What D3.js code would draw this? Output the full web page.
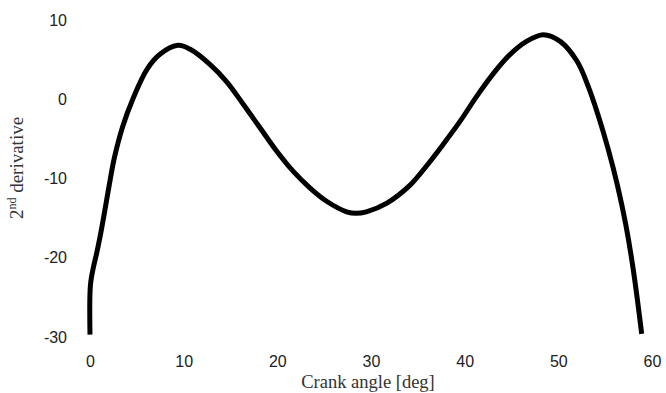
<!DOCTYPE html>
<html>
<head>
<meta charset="utf-8">
<script src="https://cdn.jsdelivr.net/npm/d3@7/dist/d3.min.js"></script>
<style>
  html, body { margin: 0; padding: 0; background: #fff; }
  svg { display: block; }
</style>
</head>
<body>
<svg id="chart" width="666" height="393"></svg>
<script>
// Crank angle (deg) and second derivative of the cam profile
const crankAngle = [0, 0.05, 0.4, 0.7, 1.1, 1.5, 2.0, 2.6, 3.5, 4.6, 6.1, 7.5, 9.4, 10.7, 12.8, 14.6, 16.4, 18.15, 19.9, 21.7, 23.5, 25.3, 27.4, 28.4, 29.5, 31.7, 34.2, 35.9, 37.7, 39.5, 41.3, 43.1, 44.8, 46.6, 48.4, 50.2, 52.0, 53.2, 54.3, 55.3, 56.3, 57.2, 58.0, 58.9];
const secondDerivative = [-29.7, -23.4, -21.0, -19.5, -17.2, -14.6, -11.2, -7.4, -3.4, 0.1, 3.8, 5.7, 6.8, 6.3, 4.4, 2.2, -0.7, -3.6, -6.5, -9.1, -11.2, -12.9, -14.2, -14.4, -14.2, -13.1, -10.8, -8.45, -5.7, -2.8, 0.4, 3.3, 5.6, 7.3, 8.15, 7.3, 4.8, 1.6, -2.2, -6.2, -10.8, -15.8, -21.5, -29.6];

const xTicks = [0, 10, 20, 30, 40, 50, 60];
const yTicks = [10, 0, -10, -20, -30];

const svg = d3.select("#chart");

const x = d3.scaleLinear().domain([0, 60]).range([90, 652]);
const y = d3.scaleLinear().domain([-30, 10]).range([337, 20]);

// Axes: tick labels only, no domain line or tick marks
const plain = d => String(d);
const xAxis = svg.append("g")
  .attr("transform", "translate(0,350)")
  .call(d3.axisBottom(x).tickValues(xTicks).tickFormat(plain).tickSize(0).tickPadding(6));
const yAxis = svg.append("g")
  .attr("transform", "translate(70,0)")
  .call(d3.axisLeft(y).tickValues(yTicks).tickFormat(plain).tickSize(0).tickPadding(3));

[xAxis, yAxis].forEach(g => {
  g.select(".domain").remove();
  g.selectAll("text")
    .attr("font-family", "'Liberation Sans', Arial, sans-serif")
    .attr("font-size", 16)
    .attr("fill", "#222");
});

// Axis titles
svg.append("text")
  .attr("x", 368)
  .attr("y", 388)
  .attr("text-anchor", "middle")
  .attr("font-family", "'Liberation Serif', 'Times New Roman', serif")
  .attr("font-size", 18.5)
  .attr("fill", "#333")
  .text("Crank angle [deg]");

const yTitle = svg.append("text")
  .attr("transform", "translate(23,168) rotate(-90)")
  .attr("text-anchor", "middle")
  .attr("font-family", "'Liberation Serif', 'Times New Roman', serif")
  .attr("font-size", 19)
  .attr("fill", "#333");
yTitle.append("tspan").text("2");
yTitle.append("tspan").attr("dy", -7).attr("font-size", 12).text("nd");
yTitle.append("tspan").attr("dy", 7).text(" derivative");

// Curve
const pts = crankAngle.map((a, i) => [a, secondDerivative[i]]);
const line = d3.line()
  .x(d => x(d[0]))
  .y(d => y(d[1]))
  .curve(d3.curveCatmullRom.alpha(0.5));

svg.append("path")
  .datum(pts)
  .attr("d", line)
  .attr("fill", "none")
  .attr("stroke", "#000")
  .attr("stroke-width", 5);
</script>
</body>
</html>
